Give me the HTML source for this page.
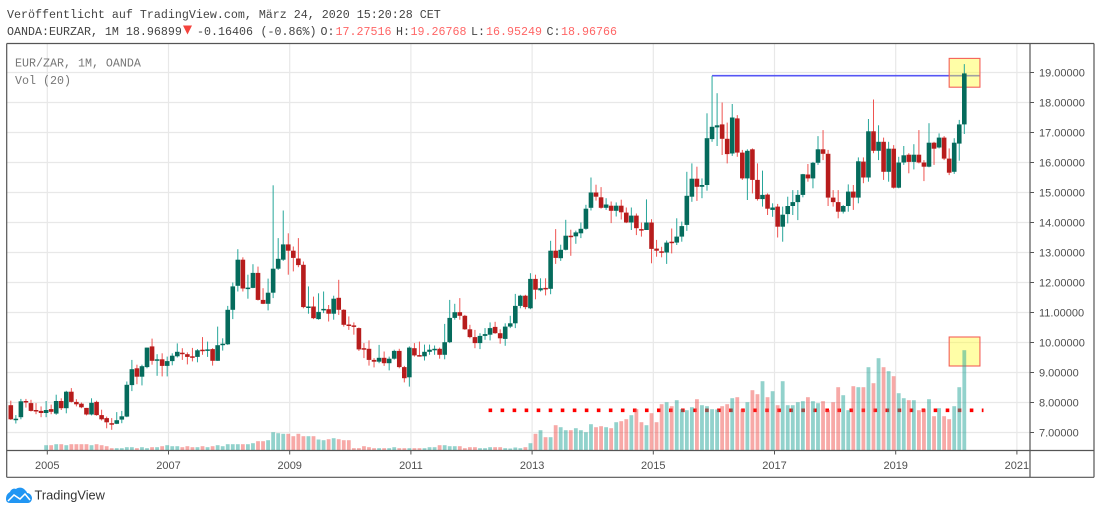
<!DOCTYPE html>
<html lang="de">
<head>
<meta charset="utf-8">
<title>EUR/ZAR 1M</title>
<style>
html,body{margin:0;padding:0;background:#fff;width:1100px;height:514px;overflow:hidden}
svg{display:block}
.mono{font-family:"Liberation Mono","DejaVu Sans Mono",monospace;font-size:11.67px}
.axis{font-family:"Liberation Sans",Arial,sans-serif;font-size:11px;fill:#4f4f4f}
</style>
</head>
<body>
<svg id="chart" xmlns="http://www.w3.org/2000/svg" width="1100" height="514" viewBox="0 0 1100 514">
  <rect x="0" y="0" width="1100" height="514" fill="#fff"/>
  <g id="grid"></g>
  <g id="drawings"></g>
  <g id="volume"></g>
  <g id="candles"></g>
  <g id="axes"></g>

  <text class="mono" x="7" y="18" fill="#444">Veröffentlicht auf TradingView.com, März 24, 2020 15:20:28 CET</text>
  <g>
    <text class="mono" x="7" y="35" fill="#444">OANDA:EURZAR, 1M 18.96899</text>
    <polygon points="183,25.5 192,25.5 187.5,34.5" fill="#f4433c"/>
    <text class="mono" x="197" y="35" fill="#444">-0.16406</text>
    <text class="mono" x="260.5" y="35" fill="#444">(-0.86%)</text>
    <text class="mono" x="320.5" y="35" fill="#444">O:</text>
    <text class="mono" x="335.5" y="35" fill="#f66">17.27516</text>
    <text class="mono" x="396" y="35" fill="#444">H:</text>
    <text class="mono" x="410.5" y="35" fill="#f66">19.26768</text>
    <text class="mono" x="471" y="35" fill="#444">L:</text>
    <text class="mono" x="486" y="35" fill="#f66">16.95249</text>
    <text class="mono" x="546.5" y="35" fill="#444">C:</text>
    <text class="mono" x="561" y="35" fill="#f66">18.96766</text>
  </g>
  <text class="mono" x="15" y="66.5" fill="#777">EUR/ZAR, 1M, OANDA</text>
  <text class="mono" x="15" y="84" fill="#777">Vol (20)</text>

  <g>
    <path d="M6 499 C6 495 8 493 10 492 C11 489 14 488 16 489 C18 487 23 487 25 490 C26 491 27 492 27 493 C30 493 32 496 32 498 C32 501 30 503 28 503 L10 503 C7 503 6 501 6 499 Z" fill="#2196f3"/>
    <path d="M8 501 L14 495 L20 499 L25 494 L30 500" fill="none" stroke="#fff" stroke-width="1.5"/>
    <text x="34.5" y="499.5" font-family="'Liberation Sans',Arial,sans-serif" font-size="12.8" fill="#333">TradingView</text>
  </g>
</svg>
<script>
const opens=[7.91,7.44,7.51,8.05,7.98,7.75,7.72,7.65,7.78,7.63,8.05,7.81,8.36,8.02,7.96,7.82,7.60,8.02,7.58,7.48,7.31,7.29,7.43,7.53,8.58,9.14,8.86,9.18,9.87,9.39,9.44,9.22,9.38,9.54,9.66,9.61,9.54,9.52,9.76,9.72,9.78,9.39,9.91,9.94,11.09,11.89,12.76,11.80,11.82,12.32,11.42,11.29,11.66,12.46,12.76,13.27,13.06,12.80,12.59,11.16,11.20,10.78,11.07,11.11,10.96,11.49,11.09,10.60,10.57,10.48,9.81,9.79,9.42,9.36,9.49,9.31,9.46,9.72,9.18,8.84,9.81,9.58,9.54,9.69,9.76,9.79,9.59,10.01,10.82,11.01,10.89,10.44,10.18,9.98,10.22,10.26,10.52,10.31,10.12,10.53,10.64,11.22,11.56,11.14,12.12,11.74,11.82,11.79,13.06,12.81,13.09,13.56,13.54,13.64,13.79,14.49,15.00,14.84,14.49,14.56,14.39,14.56,14.33,14.00,14.23,13.78,13.75,14.00,13.13,13.04,13.00,13.36,13.33,13.53,13.92,14.86,15.46,15.19,15.25,16.78,17.17,17.27,16.79,16.30,17.47,16.33,15.47,16.44,15.42,14.78,14.93,14.42,14.53,13.86,14.28,14.55,14.68,14.92,15.60,15.47,15.99,16.44,16.29,14.83,14.68,14.36,14.55,15.03,14.83,16.03,15.50,17.04,16.39,16.69,15.69,16.46,15.16,16.00,16.26,16.02,16.26,16.00,15.86,16.66,16.50,16.83,16.13,15.69,16.63,17.27];
const highs=[8.06,7.58,8.12,8.12,8.09,7.98,7.87,8.05,7.93,8.26,8.14,8.39,8.48,8.11,8.00,7.82,8.14,8.06,7.76,7.53,7.48,7.68,7.72,8.70,9.42,9.26,9.26,9.83,10.13,9.61,9.64,9.53,9.64,9.97,9.81,9.67,9.82,9.78,10.18,10.03,9.81,10.53,10.14,11.22,12.00,13.11,12.84,12.26,12.61,12.53,11.81,12.13,15.24,13.48,14.40,13.64,13.20,13.48,12.70,11.87,11.53,11.64,11.70,11.25,11.56,12.09,11.11,10.87,10.67,10.50,9.98,10.07,9.48,9.92,9.70,9.53,9.76,9.79,9.22,9.87,9.98,10.03,9.93,9.93,9.90,9.83,10.62,11.42,11.29,11.48,10.92,10.59,10.42,10.31,10.48,10.67,10.69,10.44,10.64,10.89,11.62,11.59,11.59,12.31,12.26,12.14,12.14,13.39,13.78,13.26,14.09,13.76,13.73,14.00,14.59,15.50,15.26,15.18,14.81,14.70,14.67,14.76,14.50,14.50,14.30,14.00,14.77,14.11,13.42,13.19,13.40,13.80,14.14,14.03,15.69,15.97,15.86,15.47,17.64,18.89,18.31,18.00,17.33,17.95,17.58,16.42,16.44,16.47,15.97,15.73,14.97,14.64,14.62,14.53,14.86,15.08,15.08,15.62,15.95,16.02,16.88,17.08,16.42,15.08,15.08,14.58,15.27,15.25,16.17,16.17,17.45,18.10,17.24,16.83,16.69,16.58,16.19,16.55,16.31,16.61,17.08,16.08,17.31,16.69,16.97,16.88,16.47,16.81,17.42,19.28];
const lows=[7.42,7.30,7.44,7.83,7.70,7.61,7.51,7.51,7.61,7.59,7.75,7.64,8.00,7.87,7.81,7.57,7.57,7.56,7.40,7.14,7.09,7.28,7.31,7.51,8.38,8.61,8.57,9.14,9.26,8.89,8.87,8.87,9.24,9.50,9.42,9.27,9.37,9.34,9.59,9.52,9.23,9.39,9.73,9.92,10.78,11.70,11.70,11.46,11.81,11.40,11.28,11.07,11.48,12.42,12.72,12.26,12.37,12.51,11.14,10.96,10.78,10.76,10.98,10.70,10.76,10.92,10.53,10.42,10.26,9.72,9.48,9.23,9.17,9.31,9.22,9.07,9.43,9.14,8.67,8.53,9.53,9.53,9.40,9.59,9.59,9.46,9.44,9.98,10.76,10.76,10.42,10.14,9.81,9.78,10.09,10.07,10.29,9.96,9.89,10.48,10.48,11.14,11.11,11.11,11.44,11.70,11.57,11.61,12.62,12.72,13.07,12.89,13.29,13.48,13.76,14.40,14.73,14.46,14.42,13.98,14.20,14.10,13.98,13.75,13.58,13.53,13.75,12.64,12.86,12.84,12.62,12.97,13.25,13.36,13.72,14.69,14.72,14.81,15.06,16.69,16.55,16.25,15.97,16.22,16.19,15.42,14.75,14.97,14.73,14.53,14.25,14.19,13.50,13.36,13.97,14.25,14.08,14.84,15.36,15.14,15.92,16.08,14.55,14.53,14.14,14.30,14.36,14.42,14.64,15.31,15.36,16.31,16.08,15.42,15.36,15.13,15.14,15.92,15.64,15.77,15.97,15.38,15.84,15.92,16.47,16.08,15.58,15.62,16.06,16.95];
const closes=[7.44,7.46,8.04,8.00,7.72,7.71,7.65,7.75,7.69,8.05,7.81,8.36,8.02,7.94,7.84,7.60,7.99,7.58,7.44,7.34,7.28,7.41,7.54,8.59,9.11,8.86,9.21,9.83,9.39,9.44,9.22,9.38,9.56,9.69,9.61,9.52,9.52,9.74,9.72,9.77,9.39,9.91,9.96,11.09,11.87,12.76,11.80,11.83,12.32,11.42,11.29,11.66,12.46,12.79,13.27,13.06,12.82,12.58,11.18,11.20,10.81,11.02,11.12,10.96,11.46,11.09,10.59,10.56,10.52,9.77,9.77,9.42,9.36,9.49,9.31,9.46,9.72,9.18,8.81,9.83,9.57,9.54,9.69,9.76,9.79,9.59,10.01,10.82,11.01,10.89,10.44,10.18,9.98,10.22,10.28,10.48,10.31,10.14,10.53,10.64,11.22,11.56,11.18,12.12,11.76,11.81,11.79,13.06,12.82,13.09,13.56,13.52,13.67,13.79,14.46,15.00,14.86,14.49,14.60,14.39,14.56,14.34,14.00,14.23,13.81,13.73,14.00,13.12,13.06,13.00,13.33,13.34,13.53,13.88,14.89,15.46,15.19,15.25,16.81,17.19,17.24,16.79,16.28,17.50,16.33,15.47,16.39,15.42,14.78,14.92,14.46,14.50,13.86,14.26,14.55,14.68,14.92,15.61,15.47,15.99,16.44,16.29,14.83,14.68,14.36,14.55,15.03,14.83,16.04,15.50,17.04,16.39,16.69,15.69,16.46,15.16,16.00,16.24,16.02,16.26,16.00,15.86,16.66,16.46,16.83,16.13,15.66,16.66,17.27,18.97];
const volumes=[0,0,0,0,0,0,0,53,53,63,63,53,63,63,63,63,53,63,53,43,23,23,23,33,33,23,33,23,33,33,43,53,43,43,33,43,33,33,43,33,43,53,43,63,63,63,63,63,73,93,93,103,183,173,167,167,143,167,143,143,143,110,103,113,123,113,103,103,23,23,43,33,23,23,23,23,33,23,23,23,23,23,23,33,33,53,53,43,43,43,23,33,33,23,23,33,33,33,23,20,30,23,33,73,167,203,133,133,253,233,203,203,223,203,183,263,233,243,233,223,283,293,313,353,413,283,253,373,283,463,483,443,503,413,403,433,513,453,443,413,410,443,463,523,533,413,483,603,563,693,533,593,453,693,453,453,483,493,533,493,473,493,403,483,633,553,403,643,633,633,833,673,923,833,793,743,573,523,503,503,403,413,513,343,423,343,313,443,633,1003];
const priceTicks=[19,18,17,16,15,14,13,12,11,10,9,8,7];
const yearTicks=[2005,2007,2009,2011,2013,2015,2017,2019,2021];
const blueLevel=18.893;
const blueStartIndex=139;
const drawingEndIndex=192.1;
const drawingStartIndex=186;
const priceBoxTop=19.47;
const priceBoxBottom=18.51;
const volumeBoxTop=1135;
const volumeBoxBottom=845;
const volumeDotLevel=402;
const volumeDotStartIndex=94.7;
const volumeDotEndIndex=192.8;

const NS='http://www.w3.org/2000/svg';
const xIdx=i=>10.8+i*5.045;
const xYear=y=>47.3+(y-2005)*60.6;
const yPrice=p=>72.5+(19-p)*30;
const yVol=v=>450.5-v*0.1;
function make(tag,parent,attrs){
  const el=document.createElementNS(NS,tag);
  for(const k in attrs)el.setAttribute(k,attrs[k]);
  parent.appendChild(el);
  return el;
}
const L=6.7,R=1030,T=43.5,B=450.5,FR=1094,FB=477.3;
const grid=document.getElementById('grid');
priceTicks.forEach(p=>{
  const el=make('line',grid,{x1:L,x2:R,y1:yPrice(p),y2:yPrice(p),stroke:'#e8e8e8','stroke-width':1.2});
  
  
});
yearTicks.forEach(y=>{
  const el=make('line',grid,{x1:xYear(y),x2:xYear(y),y1:T,y2:B,stroke:'#e8e8e8','stroke-width':1.2});
  
  
});

const dr=document.getElementById('drawings');
const hx=xIdx(blueStartIndex);
const blue=make('path',dr,{d:`M${hx} ${yPrice(blueLevel)}L${xIdx(drawingEndIndex)} ${yPrice(blueLevel)}`,stroke:'#5555f5','stroke-width':1.6,fill:'none'});


const box1=make('rect',dr,{x:xIdx(drawingStartIndex),y:yPrice(priceBoxTop),width:xIdx(drawingEndIndex)-xIdx(drawingStartIndex),height:yPrice(priceBoxBottom)-yPrice(priceBoxTop),fill:'rgba(255,252,60,.45)',stroke:'#f4605a','stroke-width':1.1});


const box2=make('rect',dr,{x:xIdx(drawingStartIndex),y:yVol(volumeBoxTop),width:xIdx(drawingEndIndex)-xIdx(drawingStartIndex),height:yVol(volumeBoxBottom)-yVol(volumeBoxTop),fill:'rgba(255,252,60,.45)',stroke:'#f4605a','stroke-width':1.1});


const dots=make('line',dr,{x1:xIdx(volumeDotStartIndex),x2:xIdx(volumeDotEndIndex),y1:yVol(volumeDotLevel),y2:yVol(volumeDotLevel),stroke:'#f00','stroke-width':3.6,'stroke-dasharray':'3.6 8.43'});



const volG=document.getElementById('volume');
volumes.forEach((v,i)=>{
  if(!v)return;
  const up=closes[i]>=opens[i];
  const el=make('rect',volG,{x:xIdx(i)-1.9,y:yVol(v),width:3.8,height:yVol(0)-yVol(v),fill:up?'rgba(38,166,154,.5)':'rgba(239,83,80,.5)'});
  
  
});

const cG=document.getElementById('candles');
closes.forEach((c,i)=>{
  const o=opens[i],up=c>=o,x=xIdx(i);
  const wick=make('line',cG,{x1:x,x2:x,y1:yPrice(highs[i]),y2:yPrice(lows[i]),stroke:up?'#26a69a':'#ef5350','stroke-width':1});
  
  
  const top=yPrice(Math.max(o,c)),bot=yPrice(Math.min(o,c));
  const body=make('rect',cG,{x:x-2.3,y:top,width:4.6,height:Math.max(bot-top,1.5),fill:up?'#056b5c':'#b71c1c'});
  
  
});

const ax=document.getElementById('axes');
const frameEls=[
  ['frame-top',L,T,FR,T],['frame-bottom',L,FB,FR,FB],['frame-left',L,T,L,FB],['frame-right',FR,T,FR,FB],
  ['price-axis-line',R,T,R,FB],['time-axis-line',L,B,FR,B]
];
frameEls.forEach(f=>{
  const el=make('line',ax,{x1:f[1],y1:f[2],x2:f[3],y2:f[4],stroke:'#555','stroke-width':1.2});
  
  
});
priceTicks.forEach(p=>{
  const t=make('line',ax,{x1:R,x2:R+4,y1:yPrice(p),y2:yPrice(p),stroke:'#555','stroke-width':1});
  
  
  const lab=make('text',ax,{x:1039,y:yPrice(p)+4.2,class:'axis'});
  
  
  lab.textContent=p.toFixed(5);
});
yearTicks.forEach(y=>{
  const t=make('line',ax,{x1:xYear(y),x2:xYear(y),y1:B,y2:B+4,stroke:'#555','stroke-width':1});
  
  
  const lab=make('text',ax,{x:xYear(y),y:469,'text-anchor':'middle',class:'axis'});
  
  
  lab.textContent=y;
});
</script>
</body>
</html>
